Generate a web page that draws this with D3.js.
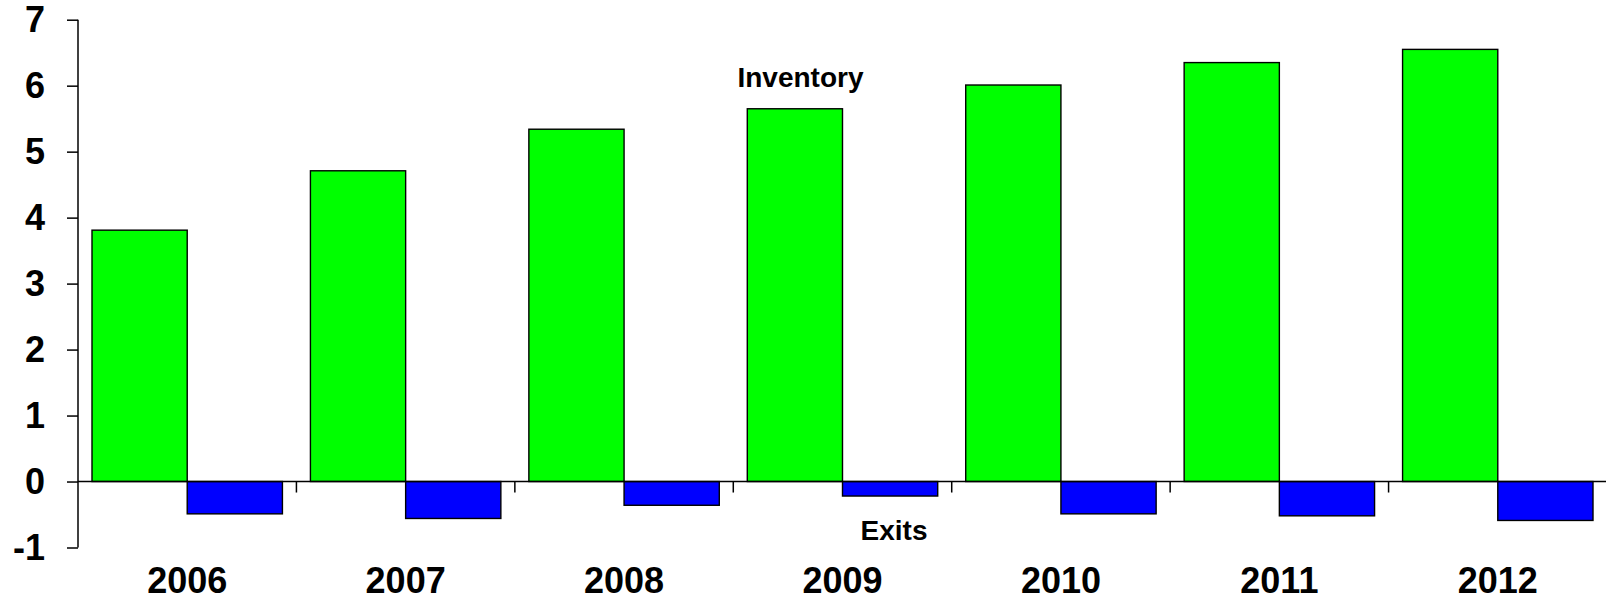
<!DOCTYPE html>
<html>
<head>
<meta charset="utf-8">
<script src="https://cdn.jsdelivr.net/npm/d3@7"></script>
<style>
  html, body { margin: 0; padding: 0; background: #fff; }
  svg { display: block; }
  text { font-family: "Liberation Sans", Arial, sans-serif; font-weight: bold; fill: #000; }
</style>
</head>
<body>
<svg id="chart" width="1606" height="601"></svg>
<script>
const years = ["2006", "2007", "2008", "2009", "2010", "2011", "2012"];
const inventory = [3.81, 4.71, 5.34, 5.65, 6.01, 6.35, 6.55];
const exits = [-0.49, -0.56, -0.36, -0.22, -0.49, -0.52, -0.59];
const yTicks = [-1, 0, 1, 2, 3, 4, 5, 6, 7];
const seriesLabels = ["Inventory", "Exits"];

const svg = d3.select("#chart");
const x = d3.scaleBand().domain(years).range([78, 1607]).paddingInner(0).paddingOuter(0);
const y = d3.scaleLinear().domain([-1, 7]).range([547.5, 19.7]);
const pad = 14;
const bw = x.bandwidth();

// bars
const g = svg.append("g");
g.selectAll("rect.inv").data(years).join("rect")
  .attr("class", "inv")
  .attr("x", d => x(d) + pad)
  .attr("width", bw / 2 - pad)
  .attr("y", (d, i) => y(inventory[i]))
  .attr("height", (d, i) => y(0) - y(inventory[i]))
  .attr("fill", "#00ff00").attr("stroke", "#000").attr("stroke-width", 1.4);
g.selectAll("rect.ex").data(years).join("rect")
  .attr("class", "ex")
  .attr("x", d => x(d) + bw / 2)
  .attr("width", bw / 2 - pad)
  .attr("y", y(0))
  .attr("height", (d, i) => y(exits[i]) - y(0))
  .attr("fill", "#0000ff").attr("stroke", "#000").attr("stroke-width", 1.4);

// y axis
const yAxis = d3.axisLeft(y).tickValues(yTicks).tickSize(11).tickPadding(22).tickFormat(d => String(d));
const ya = svg.append("g").attr("transform", "translate(78,0)").call(yAxis);
ya.select(".domain").attr("stroke", "#000").attr("stroke-width", 1.5).attr("d", `M0,${y(-1)}V${y(7)}`);
ya.selectAll(".tick line").attr("stroke", "#000").attr("stroke-width", 1.5);
ya.selectAll(".tick text").style("font-size", "36px").style("font-family", "'Liberation Sans', Arial, sans-serif").style("font-weight", "bold").attr("fill", "#000");

// x axis at zero with boundary ticks
const xa = svg.append("g").attr("transform", `translate(0,${y(0)})`);
xa.append("line").attr("x1", 78).attr("x2", 1606).attr("y1", 0).attr("y2", 0)
  .attr("stroke", "#000").attr("stroke-width", 1.5);
xa.selectAll("line.bt").data(years.slice(1)).join("line")
  .attr("class", "bt")
  .attr("x1", d => x(d)).attr("x2", d => x(d))
  .attr("y1", 0).attr("y2", 11)
  .attr("stroke", "#000").attr("stroke-width", 1.5);

// year labels
svg.append("g").selectAll("text").data(years).join("text")
  .attr("x", d => x(d) + bw / 2)
  .attr("y", 593)
  .attr("text-anchor", "middle")
  .style("font-size", "36px")
  .text(d => d);

// series annotations
svg.append("text").attr("x", 800.5).attr("y", 86.5).attr("text-anchor", "middle")
  .style("font-size", "28px").text(seriesLabels[0]);
svg.append("text").attr("x", 894).attr("y", 540).attr("text-anchor", "middle")
  .style("font-size", "28px").text(seriesLabels[1]);
</script>
</body>
</html>
